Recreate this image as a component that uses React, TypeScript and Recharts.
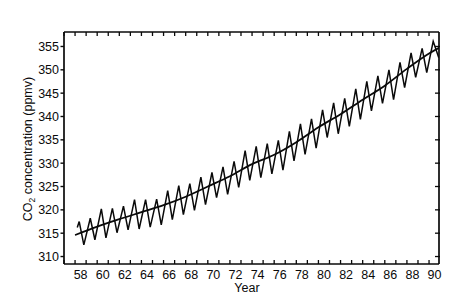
import React from 'react';
import { ComposedChart, Line, XAxis, YAxis } from 'recharts';

// ---- data ----
const peakYears = [58, 59, 60, 61, 62, 63, 64, 65, 66, 67, 68, 69, 70, 71, 72, 73, 74, 75, 76, 77, 78, 79, 80, 81, 82, 83, 84, 85, 86, 87, 88, 89, 90];
// May maxima
const peakValues = [317.5, 318.2, 320.2, 320.3, 320.8, 322.2, 322.2, 322.3, 324.1, 325.2, 325.6, 327.0, 328.0, 329.2, 330.4, 332.7, 333.6, 334.2, 334.9, 336.8, 338.4, 339.5, 341.4, 342.9, 343.9, 345.9, 347.5, 348.7, 350.0, 351.6, 353.6, 354.6, 356.1];
// October minima (58..89)
const troughValues = [312.5, 313.6, 314.0, 315.1, 315.7, 315.9, 316.3, 316.8, 317.9, 319.0, 319.9, 321.1, 322.6, 323.3, 324.8, 326.3, 326.9, 327.7, 328.5, 330.5, 331.9, 333.2, 335.5, 336.3, 337.9, 339.4, 341.2, 342.8, 343.6, 346.2, 348.4, 349.4];
const seriesStart = { x: 58.2, v: 316.2 };
const seriesEnd = { x: 90.88, v: 352.6 };

const trendYears = [58.0, 60, 62, 64, 66, 68, 70, 72, 74, 76, 78, 80, 82, 84, 86, 88, 90, 90.9];
const trendValues = [314.6, 316.4, 318.0, 319.5, 321.0, 322.8, 325.0, 327.2, 329.8, 331.8, 334.5, 337.7, 340.5, 343.6, 346.6, 350.2, 353.5, 354.7];

const yTicks = [310, 315, 320, 325, 330, 335, 340, 345, 350, 355];
const yearLabels = [58, 60, 62, 64, 66, 68, 70, 72, 74, 76, 78, 80, 82, 84, 86, 88, 90];
const yearTicks = [57, 58, 59, 60, 61, 62, 63, 64, 65, 66, 67, 68, 69, 70, 71, 72, 73, 74, 75, 76, 77, 78, 79, 80, 81, 82, 83, 84, 85, 86, 87, 88, 89, 90];

const PEAK_MONTH = 5;
const TROUGH_MONTH = 10;
const monthPos = (yr: number, m: number) => yr + (m - 0.5) / 12;

const seasonalData: { x: number; v: number }[] = [seriesStart];
peakYears.forEach((yr, i) => {
  seasonalData.push({ x: monthPos(yr, PEAK_MONTH), v: peakValues[i] });
  if (i < troughValues.length) seasonalData.push({ x: monthPos(yr, TROUGH_MONTH), v: troughValues[i] });
});
seasonalData.push(seriesEnd);

const trendData = trendYears.map((x, i) => ({ x, v: trendValues[i] }));
const labelTicks = yearLabels.map((y) => y + 0.5);

const X_DOMAIN: [number, number] = [57, 90.9];
const Y_DOMAIN: [number, number] = [308.4, 358.1];

const INK = '#0a0a0a';
const FONT = '"Liberation Sans", Arial, Helvetica, sans-serif';

const BottomTick = (p: any) => (
  <line x1={p.x} x2={p.x} y1={p.y} y2={p.y - 4} stroke={INK} strokeWidth={1.3} />
);
const TopTick = (p: any) => (
  <line x1={p.x} x2={p.x} y1={p.y} y2={p.y + 4} stroke={INK} strokeWidth={1.3} />
);
const RightTick = (p: any) => (
  <line x1={p.x - 4} x2={p.x + 1} y1={p.y} y2={p.y} stroke={INK} strokeWidth={1.3} />
);
const LeftTick = (p: any) => (
  <g>
    <line x1={p.x - 3.5} x2={p.x} y1={p.y} y2={p.y} stroke={INK} strokeWidth={1.4} />
    <text x={p.x - 5} y={p.y + 4.4} textAnchor="end" fontSize={12.5} fontFamily={FONT} fill={INK}>
      {p.payload.value}
    </text>
  </g>
);
const LabelTick = (p: any) => (
  <text x={p.x} y={p.y + 14} textAnchor="middle" fontSize={12.5} fontFamily={FONT} fill={INK}>
    {Math.floor(p.payload.value)}
  </text>
);

export default function App() {
  return (
    <div style={{ position: 'absolute', left: 0, top: 0, width: 470, height: 305, background: '#fff' }}>
      <ComposedChart width={470} height={305} margin={{ top: 31, right: 30, bottom: 39, left: 63 }}>
        <XAxis
          xAxisId={0}
          dataKey="x"
          type="number"
          domain={X_DOMAIN}
          allowDataOverflow
          height={1}
          ticks={yearTicks}
          interval={0}
          tickSize={0}
          tickMargin={0}
          tickLine={false}
          tick={BottomTick}
          axisLine={{ stroke: INK, strokeWidth: 1.7 }}
          label={{
            content: () => (
              <text x={247} y={292} textAnchor="middle" fontSize={12.5} fontFamily={FONT} fill={INK}>
                Year
              </text>
            ),
          }}
        />
        <XAxis
          xAxisId="labels"
          dataKey="x"
          type="number"
          domain={X_DOMAIN}
          allowDataOverflow
          height={1}
          ticks={labelTicks}
          interval={0}
          tickSize={0}
          tickMargin={0}
          tickLine={false}
          axisLine={false}
          tick={LabelTick}
        />
        <XAxis
          xAxisId="top"
          orientation="top"
          dataKey="x"
          type="number"
          domain={X_DOMAIN}
          allowDataOverflow
          height={1}
          ticks={yearTicks}
          interval={0}
          tickSize={0}
          tickMargin={0}
          tickLine={false}
          tick={TopTick}
          axisLine={{ stroke: INK, strokeWidth: 1.7 }}
        />
        <YAxis
          yAxisId={0}
          type="number"
          domain={Y_DOMAIN}
          allowDataOverflow
          width={1}
          ticks={yTicks}
          interval={0}
          tickSize={0}
          tickMargin={0}
          tickLine={false}
          tick={LeftTick}
          axisLine={{ stroke: INK, strokeWidth: 1.7 }}
          label={{
            content: () => (
              <text
                x={32}
                y={149}
                transform="rotate(-90 32 149)"
                textAnchor="middle"
                fontSize={12.5}
                fontFamily={FONT}
                fill={INK}
              >
                CO<tspan fontSize={8.5} dy={3}>2</tspan>
                <tspan dy={-3}> concentration (ppmv)</tspan>
              </text>
            ),
          }}
        />
        <YAxis
          yAxisId="right"
          orientation="right"
          type="number"
          domain={Y_DOMAIN}
          allowDataOverflow
          width={1}
          ticks={yTicks}
          interval={0}
          tickSize={0}
          tickMargin={0}
          tickLine={false}
          tick={RightTick}
          axisLine={{ stroke: INK, strokeWidth: 1.7 }}
        />
        <Line
          data={seasonalData}
          dataKey="v"
          type="linear"
          stroke={INK}
          strokeWidth={1.5}
          dot={false}
          isAnimationActive={false}
        />
        <Line
          data={trendData}
          dataKey="v"
          type="monotone"
          stroke={INK}
          strokeWidth={1.8}
          dot={false}
          isAnimationActive={false}
        />
      </ComposedChart>
    </div>
  );
}
